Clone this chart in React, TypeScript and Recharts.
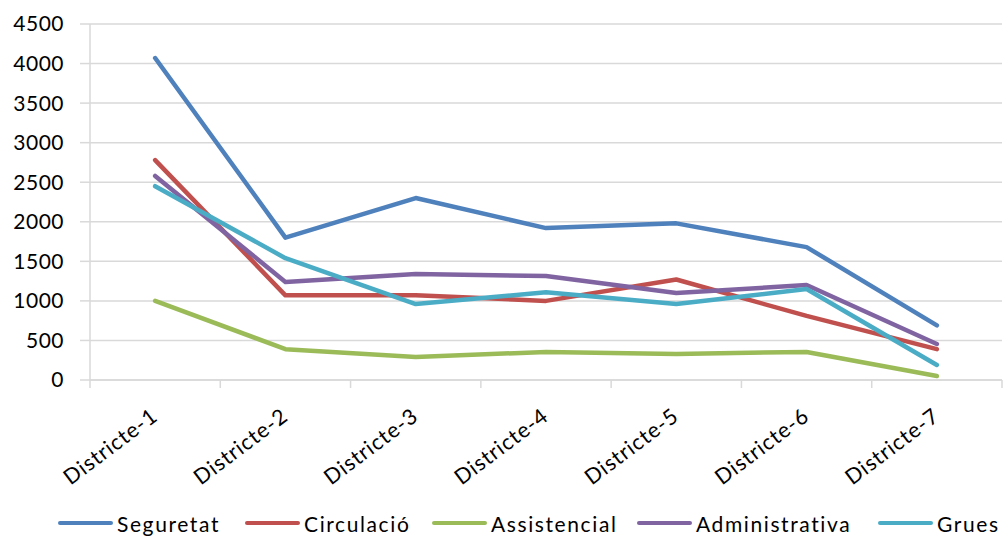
import React from "react";
import {
  LineChart,
  Line,
  XAxis,
  YAxis,
  CartesianGrid,
  Legend,
} from "recharts";

const districtes = [
  "Districte-1",
  "Districte-2",
  "Districte-3",
  "Districte-4",
  "Districte-5",
  "Districte-6",
  "Districte-7",
];

const seguretat = [4070, 1800, 2300, 1920, 1980, 1680, 690];
const circulacio = [2780, 1070, 1070, 1000, 1270, 810, 390];
const assistencial = [1000, 390, 290, 355, 330, 355, 50];
const administrativa = [2580, 1240, 1340, 1315, 1100, 1200, 455];
const grues = [2450, 1540, 960, 1110, 960, 1150, 190];

const yTicks = [0, 500, 1000, 1500, 2000, 2500, 3000, 3500, 4000, 4500];

const series = [
  { key: "Seguretat", values: seguretat, color: "#4F81BD" },
  { key: "Circulació", values: circulacio, color: "#C0504D" },
  { key: "Assistencial", values: assistencial, color: "#9BBB59" },
  { key: "Administrativa", values: administrativa, color: "#8064A2" },
  { key: "Grues", values: grues, color: "#4BACC6" },
];

const data = districtes.map((name, i) => {
  const row: Record<string, string | number> = { name };
  series.forEach((s) => (row[s.key] = s.values[i]));
  return row;
});

const W = 1006;
const H = 538;
const LEFT = 90;
const RIGHT = 4;
const FONT = "Lato, 'Open Sans', sans-serif";
const BAND = (W - LEFT - RIGHT) / districtes.length;
const GRID = "#d9d9d9";

// label rotated, plus the excel-style tick marks between categories
function DistrictTick(props: any) {
  const { x, y, payload, index } = props;
  const last = index === districtes.length - 1;
  const tx = x + 4;
  const ty = y + 39;
  return (
    <g>
      <line x1={x - BAND / 2} y1={y} x2={x - BAND / 2} y2={y + 8} stroke={GRID} strokeWidth={1.5} />
      {last && (
        <line x1={x + BAND / 2} y1={y} x2={x + BAND / 2} y2={y + 8} stroke={GRID} strokeWidth={1.5} />
      )}
      <text
        x={tx}
        y={ty}
        textAnchor="end"
        fill="#000"
        fontSize={21.5}
        letterSpacing={0.9}
        fontFamily={FONT}
        transform={`rotate(-37, ${tx}, ${ty})`}
      >
        {payload.value}
      </text>
    </g>
  );
}

const legendStarts = [58, 245, 432, 637, 878];

function ChartLegend() {
  return (
    <div style={{ position: "relative", height: 30, width: W }}>
      {series.map((s, i) => (
        <div
          key={s.key}
          style={{
            position: "absolute",
            left: legendStarts[i],
            top: 0,
            height: 30,
            display: "flex",
            alignItems: "center",
            whiteSpace: "nowrap",
          }}
        >
          <span
            style={{
              display: "inline-block",
              width: 55,
              height: 4,
              borderRadius: 2,
              background: s.color,
              marginRight: 4,
            }}
          />
          <span style={{ fontFamily: FONT, fontSize: 21, letterSpacing: 1.6, color: "#000" }}>
            {s.key}
          </span>
        </div>
      ))}
    </div>
  );
}

export default function App() {
  return (
    <div style={{ position: "absolute", left: 0, top: 0, width: W, height: H, background: "#fff" }}>
      <LineChart
        width={W}
        height={H}
        data={data}
        margin={{ top: 24, right: RIGHT, left: 0, bottom: 0 }}
      >
        <CartesianGrid horizontal vertical={false} stroke={GRID} strokeWidth={1.5} />
        <XAxis
          dataKey="name"
          height={128}
          padding={{ left: BAND / 2, right: BAND / 2 }}
          tickSize={0}
          tickMargin={0}
          tickLine={false}
          axisLine={{ stroke: GRID, strokeWidth: 1.5 }}
          tick={<DistrictTick />}
          interval={0}
        />
        <YAxis
          width={LEFT}
          domain={[0, 4500]}
          ticks={yTicks}
          interval={0}
          tickSize={10}
          tickMargin={16}
          tickLine={{ stroke: GRID, strokeWidth: 1.5 }}
          axisLine={{ stroke: GRID, strokeWidth: 1.5 }}
          tick={{ fill: "#000", fontSize: 21, fontFamily: FONT, letterSpacing: 0.5 }}
        />
        <Legend verticalAlign="bottom" height={30} content={() => <ChartLegend />} />
        {series.map((s) => (
          <Line
            key={s.key}
            dataKey={s.key}
            stroke={s.color}
            strokeWidth={4.5}
            strokeLinecap="round"
            strokeLinejoin="round"
            dot={false}
            activeDot={false}
            isAnimationActive={false}
          />
        ))}
      </LineChart>
    </div>
  );
}
